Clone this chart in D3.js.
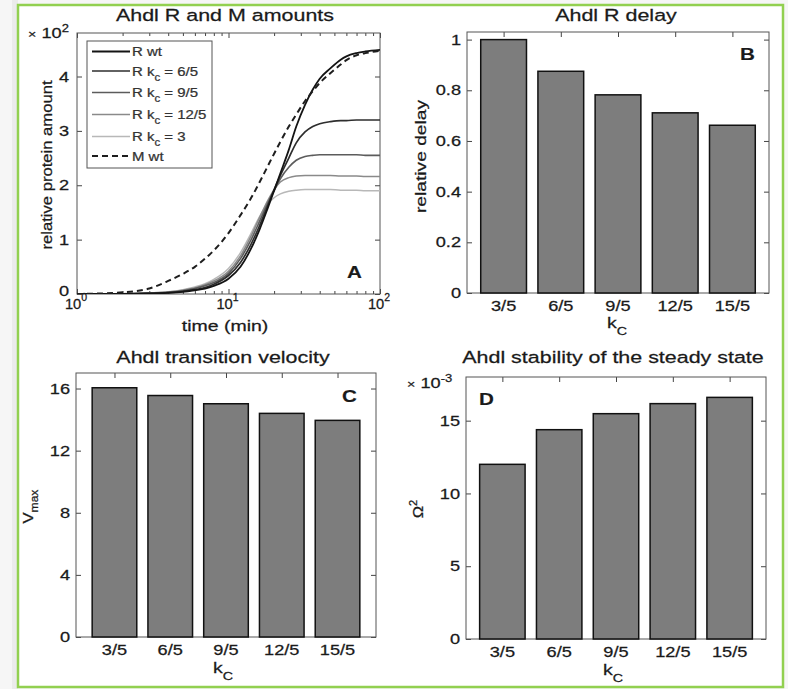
<!DOCTYPE html>
<html>
<head>
<meta charset="utf-8">
<script src="https://cdn.jsdelivr.net/npm/d3@7"></script>
<style>
  html, body { margin: 0; padding: 0; background: #f5f5f5; }
  svg { display: block; font-family: "Liberation Sans", Arial, Helvetica, sans-serif; }
</style>
</head>
<body>
<svg id="fig" width="788" height="689"></svg>
<script>
// ---------------- data ----------------
const kcLabels = ["3/5", "6/5", "9/5", "12/5", "15/5"];
const relativeDelay = [1.0, 0.875, 0.782, 0.711, 0.662];
const vMax = [16.05, 15.55, 15.02, 14.4, 13.95];
const omegaSq = [12.0e-3, 14.38e-3, 15.48e-3, 16.17e-3, 16.6e-3];

// time course of AhdI R and M (relative amounts, x10^2)
const timeMin = [1, 2, 3, 4, 5, 6, 7, 8, 10, 12, 14, 16, 18, 20, 22, 25, 28, 32, 36, 40, 47, 55, 60, 70, 80, 100];
const rWt   = [0, 0.003, 0.01, 0.02, 0.04, 0.07, 0.10, 0.15, 0.28, 0.50, 0.82, 1.18, 1.55, 1.90, 2.22, 2.65, 3.08, 3.48, 3.76, 3.96, 4.15, 4.31, 4.37, 4.43, 4.46, 4.49];
const rKc65 = [0, 0.003, 0.012, 0.025, 0.05, 0.08, 0.12, 0.18, 0.34, 0.58, 0.90, 1.25, 1.60, 1.92, 2.18, 2.50, 2.78, 2.98, 3.08, 3.13, 3.17, 3.19, 3.19, 3.20, 3.20, 3.20];
const rKc95 = [0, 0.004, 0.015, 0.03, 0.06, 0.10, 0.15, 0.21, 0.38, 0.65, 0.98, 1.33, 1.65, 1.90, 2.12, 2.33, 2.46, 2.53, 2.55, 2.56, 2.56, 2.56, 2.56, 2.56, 2.55, 2.55];
const rKc125 = [0, 0.005, 0.018, 0.035, 0.07, 0.11, 0.17, 0.24, 0.42, 0.70, 1.05, 1.40, 1.70, 1.92, 2.06, 2.14, 2.17, 2.18, 2.18, 2.18, 2.18, 2.17, 2.17, 2.17, 2.16, 2.16];
const rKc3  = [0, 0.006, 0.02, 0.04, 0.08, 0.13, 0.19, 0.27, 0.47, 0.76, 1.10, 1.42, 1.64, 1.77, 1.84, 1.89, 1.91, 1.92, 1.92, 1.92, 1.92, 1.91, 1.91, 1.91, 1.90, 1.90];
const mWt   = [0, 0.03, 0.10, 0.24, 0.37, 0.50, 0.65, 0.80, 1.12, 1.45, 1.75, 2.05, 2.33, 2.58, 2.80, 3.08, 3.30, 3.55, 3.73, 3.88, 4.06, 4.22, 4.30, 4.39, 4.43, 4.47];

const legendNames = ["R wt", "R k_c = 6/5", "R k_c = 9/5", "R k_c = 12/5", "R k_c = 3", "M wt"];
const ticksA = [0, 1, 2, 3, 4];
const ticksB = [0, 0.2, 0.4, 0.6, 0.8, 1];
const ticksC = [0, 4, 8, 12, 16];
const ticksD = [0, 0.005, 0.010, 0.015];

// ---------------- page ----------------
const svg = d3.select("#fig");
svg.append("rect").attr("width", 788).attr("height", 689).attr("fill", "#f6f6f6");
svg.append("rect").attr("x", 12).attr("y", 0).attr("width", 6).attr("height", 689).attr("fill", "#ebebeb");
svg.append("rect").attr("x", 18).attr("y", 5).attr("width", 765).attr("height", 682)
  .attr("fill", "#fff").attr("stroke", "#92d050").attr("stroke-width", 2.5);

// text with horizontal stretch and optional sub/superscript parts
function label(g, x, y, parts, o = {}) {
  const fill = o.fill || "#1a1a1a";
  const t = g.append("text")
    .attr("transform", `translate(${x},${y})${o.rot ? ` rotate(${o.rot})` : ""} scale(${o.sx ?? 1.3},1)`)
    .attr("text-anchor", o.anchor || "middle")
    .attr("font-size", o.size || 14)
    .attr("font-weight", o.weight || "normal")
    .attr("fill", fill)
    .attr("stroke", fill)
    .attr("stroke-width", o.weight === "bold" ? 0.15 : 0.25);
  if (o.baseline) t.attr("dominant-baseline", o.baseline);
  (Array.isArray(parts) ? parts : [{ t: parts }]).forEach(p => {
    const s = t.append("tspan").text(p.t);
    if (p.size) s.attr("font-size", p.size);
    if (p.dy) s.attr("dy", p.dy);
  });
  return t;
}

// axes box with inward ticks on all four sides
function frame(g, p, x, y, xTicks, yTicks, xMinor) {
  const style = sel => {
    sel.select(".domain").remove();
    sel.selectAll(".tick line").attr("stroke", "#444").attr("stroke-width", 1);
  };
  const addX = (vals, len) => {
    g.append("g").attr("transform", `translate(0,${p.y1})`)
      .call(d3.axisBottom(x).tickValues(vals).tickSize(-len).tickFormat("")).call(style);
    g.append("g").attr("transform", `translate(0,${p.y0})`)
      .call(d3.axisTop(x).tickValues(vals).tickSize(-len).tickFormat("")).call(style);
  };
  addX(xTicks, 5);
  if (xMinor) addX(xMinor, 3);
  g.append("g").attr("transform", `translate(${p.x0},0)`)
    .call(d3.axisLeft(y).tickValues(yTicks).tickSize(-5).tickFormat("")).call(style);
  g.append("g").attr("transform", `translate(${p.x1},0)`)
    .call(d3.axisRight(y).tickValues(yTicks).tickSize(-5).tickFormat("")).call(style);
  g.append("rect").attr("x", p.x0).attr("y", p.y0)
    .attr("width", p.x1 - p.x0).attr("height", p.y1 - p.y0)
    .attr("fill", "none").attr("stroke", "#555").attr("stroke-width", 1);
}

function multiplier(g, x, y, exp) {
  label(g, x, y, [{ t: "×", size: 11 }, { t: " 10", size: 14 }, { t: exp, size: 10, dy: -6 }], { anchor: "start" });
}

function kcAxisLabel(g, cx, y) {
  label(g, cx, y, [{ t: "k", size: 15 }, { t: "C", size: 11, dy: 7 }]);
}

// ---------------- panel A: time courses ----------------
{
  const p = { x0: 77, x1: 380, y0: 33, y1: 294 };
  const g = svg.append("g");
  const x = d3.scaleLog().domain([1, 100]).range([p.x0, p.x1]);
  const y = d3.scaleLinear().domain([0, 4.8]).range([p.y1, p.y0]);

  svg.append("defs").append("clipPath").attr("id", "clipA")
    .append("rect").attr("x", p.x0).attr("y", p.y0).attr("width", p.x1 - p.x0).attr("height", p.y1 - p.y0);

  const minor = [];
  [1, 10].forEach(d => { for (let k = 2; k <= 9; k++) minor.push(d * k); });
  frame(g, p, x, y, [1, 10, 100], ticksA, minor);

  const series = [
    { v: rKc3,   color: "#b8b8b8", w: 1.5, dash: null },
    { v: rKc125, color: "#8a8a8a", w: 1.5, dash: null },
    { v: rKc95,  color: "#5c5c5c", w: 1.6, dash: null },
    { v: rKc65,  color: "#2e2e2e", w: 1.7, dash: null },
    { v: rWt,    color: "#141414", w: 1.8, dash: null },
    { v: mWt,    color: "#1e1e1e", w: 2.0, dash: "6,4" }
  ];
  const line = d3.line().x(d => x(d[0])).y(d => y(d[1])).curve(d3.curveMonotoneX);
  const curves = g.append("g").attr("clip-path", "url(#clipA)");
  series.forEach(s => {
    curves.append("path")
      .attr("d", line(timeMin.map((t, i) => [t, s.v[i]])))
      .attr("fill", "none").attr("stroke", s.color).attr("stroke-width", s.w)
      .attr("stroke-dasharray", s.dash);
  });

  // legend (entries in legendNames order)
  const legStyles = [series[4], series[3], series[2], series[1], series[0], series[5]];
  const rowY = [51.5, 71, 92.5, 114.5, 136.5, 156];
  g.append("rect").attr("x", 87).attr("y", 41).attr("width", 125).attr("height", 127)
    .attr("fill", "#fff").attr("stroke", "#555").attr("stroke-width", 1);
  legendNames.forEach((name, i) => {
    const s = legStyles[i];
    g.append("line").attr("x1", 92).attr("x2", 130).attr("y1", rowY[i]).attr("y2", rowY[i])
      .attr("stroke", s.color).attr("stroke-width", s.w).attr("stroke-dasharray", s.dash);
    const m = name.match(/^R k_c(.*)$/);
    const parts = m ? [{ t: "R k" }, { t: "c", size: 10, dy: 5 }, { t: m[1], dy: -5 }] : [{ t: name }];
    label(g, 132, rowY[i] + 4.5, parts, { anchor: "start", size: 13, sx: 1.15, fill: "#333" });
  });

  // tick labels
  ticksA.forEach(v => label(g, p.x0 - 8, y(v) - (v === 0 ? 3 : 0), String(v), { anchor: "end", baseline: "central" }));
  [[1, "0"], [10, "1"], [100, "2"]].forEach(([v, e]) =>
    label(g, x(v) - 1, 309, [{ t: "10" }, { t: e, size: 10, dy: -8 }], { sx: 1.05 }));
  multiplier(g, 28, 38, "2");

  label(g, 225, 21, "Ahdl R and M amounts", { size: 16.5 });
  label(g, 225, 331, "time (min)", { size: 15 });
  label(g, 52, 165, "relative protein amount", { size: 15, rot: -90, sx: 1.11 });
  label(g, 354.5, 278, "A", { size: 16.5, weight: "bold", sx: 1.25 });
}

// ---------------- bar panels ----------------
function barPanel(p, values, domainX, yMax, yTicks, fmt) {
  const g = svg.append("g");
  const x = d3.scaleLinear().domain(domainX).range([p.x0, p.x1]);
  const y = d3.scaleLinear().domain([0, yMax]).range([p.y1, p.y0]);
  const idx = values.map((_, i) => i + 1);
  const bw = x(1.4) - x(0.6);

  frame(g, p, x, y, idx, yTicks);
  g.append("g").selectAll("rect").data(values).join("rect")
    .attr("x", (d, i) => x(i + 1) - bw / 2)
    .attr("y", d => y(d))
    .attr("width", bw)
    .attr("height", d => y(0) - y(d))
    .attr("fill", "#7d7d7d").attr("stroke", "#111").attr("stroke-width", 1.5);

  yTicks.forEach(v => label(g, p.x0 - 6, y(v), fmt(v), { anchor: "end", baseline: "central" }));
  kcLabels.forEach((k, i) => label(g, x(i + 1), p.y1 + 13, k, { baseline: "central" }));
  return { g, x, y };
}

// B: delay
{
  const p = { x0: 467, x1: 769, y0: 32, y1: 293 };
  const { g } = barPanel(p, relativeDelay, [0.36, 5.64], 1.03, ticksB, v => String(v));
  label(g, 616, 21, "Ahdl R delay", { size: 16.5 });
  kcAxisLabel(g, 617, 328);
  label(g, 426, 156.5, "relative delay", { size: 15, rot: -90, sx: 1.28 });
  label(g, 747.5, 60, "B", { size: 16.5, weight: "bold", sx: 1.25 });
}

// C: transition velocity
{
  const p = { x0: 76, x1: 376, y0: 373, y1: 637 };
  const { g } = barPanel(p, vMax, [0.31, 5.69], 17, ticksC, v => String(v));
  label(g, 223, 363, "Ahdl transition velocity", { size: 16.5 });
  kcAxisLabel(g, 223, 673);
  label(g, 33, 506.5, [{ t: "V", size: 15 }, { t: "max", size: 11, dy: 5 }], { rot: -90, sx: 1.1 });
  label(g, 349.5, 401.5, "C", { size: 16.5, weight: "bold", sx: 1.25 });
}

// D: stability of the steady state
{
  const p = { x0: 466, x1: 766, y0: 377, y1: 639 };
  const { g } = barPanel(p, omegaSq, [0.36, 5.64], 0.018, ticksD, v => String(Math.round(v * 1000)));
  label(g, 613, 363, "Ahdl stability of the steady state", { size: 16.5 });
  kcAxisLabel(g, 613, 675);
  multiplier(g, 407, 388, "-3");
  label(g, 423, 509, [{ t: "Ω", size: 15 }, { t: "2", size: 10, dy: -6 }], { rot: -90, sx: 1.1 });
  label(g, 486.5, 405, "D", { size: 16.5, weight: "bold", sx: 1.25 });
}
</script>
</body>
</html>
